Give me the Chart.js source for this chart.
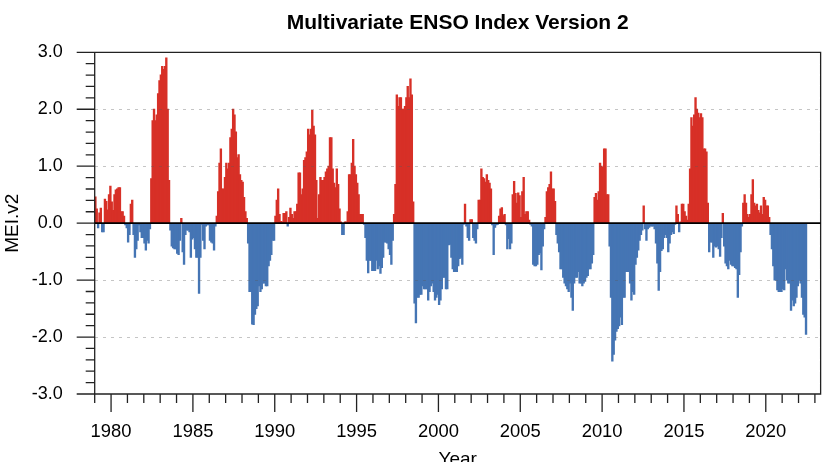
<!DOCTYPE html>
<html>
<head>
<meta charset="utf-8">
<title>Multivariate ENSO Index Version 2</title>
<script src="https://cdn.jsdelivr.net/npm/chart.js@4"></script>
<style>
  body { margin: 0; background: #fff; overflow: hidden; }
  canvas { display: block; }
</style>
</head>
<body>
<canvas id="meiChart" width="834" height="462"></canvas>
<script>
const startYear = 1979;
const xLabelYears = [1980, 1985, 1990, 1995, 2000, 2005, 2010, 2015, 2020];
const yLabelValues = [-3, -2, -1, 0, 1, 2, 3];
const gridValues = [-2, -1, 1, 2];

// monthly values, one row per year from 1979
const meiValues = [
  .46, .25, -.08, .18, .26, -.15, -.15, .42, .38, .23, .5, .65,
  .37, .22, .5, .58, .6, .62, .62, .2, .2, .12, -.03, -.08,
  -.33, -.2, .33, .4, -.2, -.6, -.45, -.3, -.03, -.15, -.25, -.25,
  -.35, -.47, -.3, -.35, -.1, .78, 1.8, 2.0, 1.8, 1.9, 2.27, 2.5,
  2.6, 2.75, 2.7, 2.75, 2.9, 2.0, .75, -.12, -.4, -.43, -.45, -.45,
  -.53, -.55, -.3, .08, -.5, -.72, -.2, -.12, -.12, -.15, -.6, -.28,
  -.25, -.45, -.6, -.6, -1.23, -.6, -.02, -.3, -.45, -.05, -.03, -.03,
  -.3, -.33, -.35, -.47, -.05, .12, .55, 1.05, 1.3, .6, .6, .8,
  1.05, .95, 1.05, 1.5, 1.65, 2.0, 1.9, 1.6, 1.15, 1.2, .85, .75,
  .72, .45, .2, .08, -.35, -1.2, -1.2, -1.77, -1.78, -1.6, -1.5, -1.45,
  -1.1, -1.2, -1.15, -1.05, -1.05, -1.1, -1.1, -.75, -.65, -.55, -.3, -.3,
  .12, .4, .6, .15, .03, .02, .17, .17, .2, -.05, .1, .26,
  .15, .08, .2, .2, .33, .88, .88, .5, .6, 1.1, 1.15, 1.25,
  1.65, 1.55, 1.65, 1.98, 1.7, 1.55, .75, .08, .5, .8, .75, .75,
  .8, .9, .95, 1.0, 1.5, 1.5, .95, .7, .62, .95, .68, .25,
  .02, -.2, -.2, .02, .02, .2, .85, .85, 1.05, 1.47, 1.0, .85,
  .7, .5, .15, .15, .15, -.02, -.25, -.65, -.87, -.65, -.65, -.83,
  -.83, -.83, -.65, -.8, -.75, -.88, -.78, -.6, -.33, -.33, -.35, -.45,
  -.55, -.72, -.3, .15, .68, 2.25, 2.05, 2.2, 2.2, 2.0, 2.0, 2.05,
  2.2, 2.4, 2.2, 2.53, 2.25, .37, -1.4, -1.75, -1.3, -1.3, -1.25, -1.25,
  -1.1, -1.15, -1.15, -1.15, -1.35, -1.2, -1.1, -1.05, -1.2, -1.35, -1.3, -1.25,
  -1.43, -1.35, -1.15, -.95, -.95, -1.15, -1.15, -.38, -.37, -.6, -.8, -.85,
  -.85, -.85, -.75, -.62, -.6, -.72, -.02, .33, -.05, -.25, -.3, .06,
  .06, -.25, -.3, -.35, -.1, .4, .4, .95, .8, .78, .72, .85,
  .75, .7, .6, -.03, -.55, -.07, -.03, -.02, .12, .25, .27, .13,
  .15, -.03, -.45, -.27, -.45, -.35, .5, .73, .52, .35, .53, .48,
  .1, .55, .8, .15, .2, .2, .05, -.02, -.05, -.72, -.75, -.75,
  -.72, -.55, -.52, -.82, -.4, -.1, .1, .55, .62, .68, .9, .6,
  .6, .38, -.2, -.35, -.5, -.8, -.8, -.95, -1.05, -1.1, -1.15, -1.2,
  -1.05, -1.3, -1.53, -1.05, -.95, -.95, -.85, -1.05, -1.05, -1.1, -1.05, -1.02,
  -.95, -.92, -.8, -.8, -.7, -.55, .45, .52, .4, .55, 1.05, 1.0,
  .98, 1.3, 1.3, .5, .5, -.4, -1.3, -2.42, -2.3, -2.05, -1.9, -1.85,
  -1.8, -1.65, -1.78, -1.3, -1.3, -.85, -.85, -.85, -1.05, -1.35, -1.2, -1.25,
  -.72, -.6, -.47, -.3, -.2, -.12, .3, -.1, -.3, -.1, -.07, -.05,
  -.05, -.05, -.1, -.35, -.7, -1.18, -.85, -.48, -.45, -.25, -.2, -.25,
  -.5, -.35, -.2, -.15, -.18, -.02, .3, .15, -.15, .02, .33, .33,
  .2, .12, .05, .33, .95, 1.85, 1.7, 1.9, 2.2, 2.0, 1.93, 1.85,
  1.92, 1.85, 1.3, 1.3, 1.25, .35, -.5, -.33, -.33, -.6, -.4, -.42,
  -.4, -.45, -.58, -.25, .17, -.4, -.7, -.75, -.8, -.65, -.72, -.75,
  -.75, -.78, -.8, -1.3, -.9, -.5, -.05, .35, .5, .35, .15, .1,
  .15, .5, .76, .35, .3, .33, .22, .18, .3, .15, .45, .4,
  .3, .3, .1, -.2, -.45, -.75, -1.0, -1.0, -1.17, -1.2, -1.2, -1.2,
  -1.15, -1.17, -.8, -1.0, -1.05, -1.05, -1.53, -1.35, -1.45, -1.4, -1.3, -1.1,
  -1.0, -1.05, -1.3, -1.6, -1.65, -1.95
];

const points = meiValues.map((v, i) => ({ x: startYear + (i + 0.5) / 12, y: v }));
const barColors = meiValues.map(v => v >= 0 ? '#d73027' : '#4575b4');
const isWhole = v => Math.abs(v - Math.round(v)) < 1e-6;

// ticks of two lengths, frame and the zero line
const frameAndTicks = {
  id: 'frameAndTicks',
  afterDraw(chart) {
    const { ctx, chartArea: area, scales: { x, y } } = chart;
    ctx.save();
    ctx.strokeStyle = '#222';
    ctx.lineWidth = 1.3;
    ctx.beginPath();
    y.ticks.forEach(t => {
      const py = y.getPixelForValue(t.value);
      ctx.moveTo(area.left, py);
      ctx.lineTo(area.left - (isWhole(t.value) ? 18 : 9), py);
    });
    x.ticks.forEach(t => {
      const px = x.getPixelForValue(t.value);
      ctx.moveTo(px, area.bottom);
      ctx.lineTo(px, area.bottom + (xLabelYears.includes(t.value) ? 18 : 9));
    });
    ctx.rect(area.left, area.top, area.right - area.left, area.bottom - area.top);
    ctx.stroke();
    const zero = y.getPixelForValue(0);
    ctx.strokeStyle = '#000';
    ctx.lineWidth = 1.6;
    ctx.beginPath();
    ctx.moveTo(area.left, zero);
    ctx.lineTo(area.right, zero);
    ctx.stroke();
    ctx.restore();
  }
};

new Chart(document.getElementById('meiChart'), {
  type: 'bar',
  data: {
    datasets: [{
      data: points,
      backgroundColor: barColors,
      borderWidth: 0,
      inflateAmount: 0.5,
      barPercentage: 1,
      categoryPercentage: 1
    }]
  },
  options: {
    responsive: false,
    animation: false,
    layout: { padding: { right: 12 } },
    plugins: {
      legend: { display: false },
      tooltip: { enabled: false },
      title: {
        display: true,
        text: 'Multivariate ENSO Index Version 2',
        fullSize: false,
        color: '#000',
        font: { family: '"Liberation Sans"', size: 21, weight: 'bold' },
        padding: { top: 10.5, bottom: 16.6 }
      }
    },
    scales: {
      x: {
        type: 'linear',
        offset: false,
        min: 1979,
        max: 2023.35,
        afterFit: s => { s.height = 68; },
        grid: { display: false },
        border: { display: false },
        ticks: {
          stepSize: 1,
          includeBounds: false,
          autoSkip: false,
          maxRotation: 0,
          padding: 19,
          color: '#000',
          font: { family: '"Liberation Sans"', size: 18.4 },
          callback: v => xLabelYears.includes(v) ? String(v) : ''
        },
        title: {
          display: true,
          text: 'Year',
          color: '#000',
          font: { family: '"Liberation Sans"', size: 19 },
          padding: { top: 0, bottom: -9 }
        }
      },
      y: {
        min: -3,
        max: 3,
        afterFit: s => { s.width = 94.7; },
        grid: {
          z: 1,
          drawTicks: false,
          lineWidth: 1,
          color: c => gridValues.some(g => Math.abs(g - c.tick.value) < 1e-6) ? 'rgba(90,90,90,0.35)' : 'transparent'
        },
        border: { display: false, dash: [3, 5] },
        ticks: {
          stepSize: 0.2,
          autoSkip: false,
          padding: 32,
          color: '#000',
          font: { family: '"Liberation Sans"', size: 18 },
          callback: v => yLabelValues.some(l => Math.abs(l - v) < 1e-6) ? v.toFixed(1) : ''
        },
        title: {
          display: true,
          text: 'MEI.v2',
          color: '#000',
          font: { family: '"Liberation Sans"', size: 19 },
          padding: { top: 1, bottom: 0 }
        }
      }
    }
  },
  plugins: [frameAndTicks]
});
</script>
</body>
</html>
